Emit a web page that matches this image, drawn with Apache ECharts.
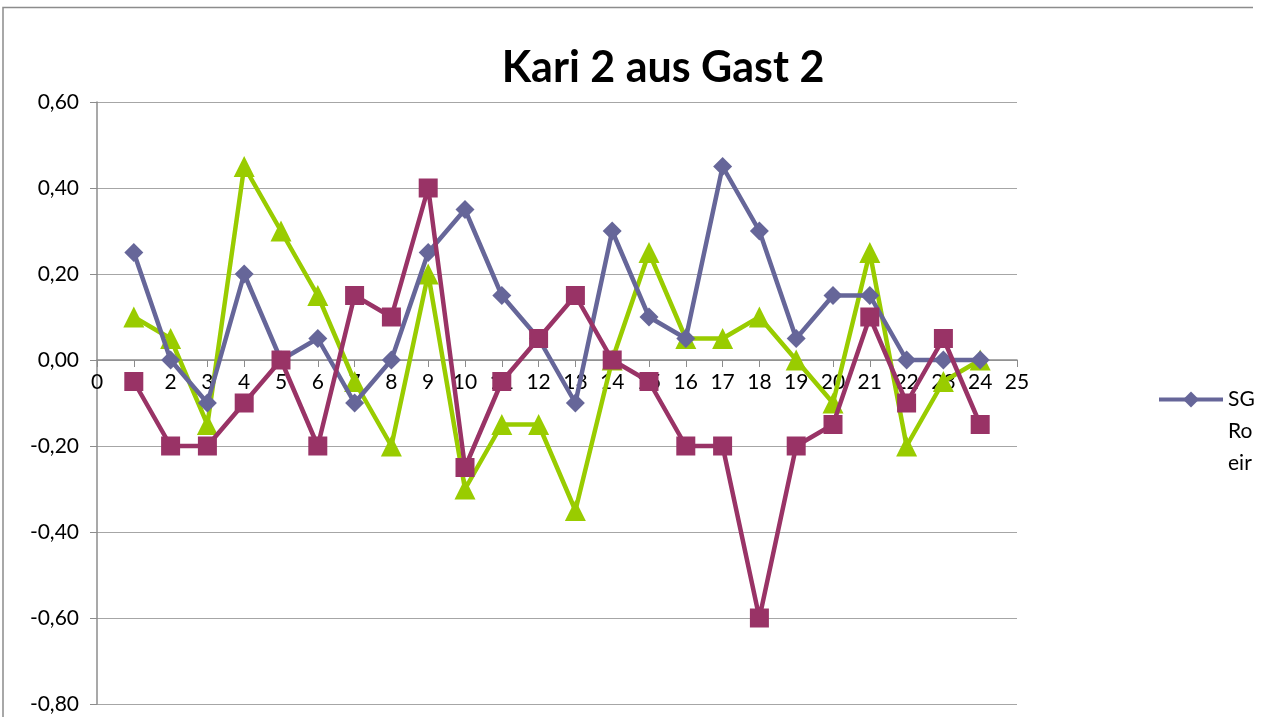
<!DOCTYPE html>
<html>
<head>
<meta charset="utf-8">
<title>Kari 2 aus Gast 2</title>
<script src="https://cdn.jsdelivr.net/npm/echarts@6/dist/echarts.min.js"></script>
<style>
  html, body { margin: 0; padding: 0; background: #fff; }
  #chart { width: 1268px; height: 717px; }
</style>
</head>
<body>
<div id="chart"></div>
<script>
  // Werte je Position 1..24
  var positions = [1, 2, 3, 4, 5, 6, 7, 8, 9, 10, 11, 12, 13, 14, 15, 16, 17, 18, 19, 20, 21, 22, 23, 24];
  var sgValues = [0.25, 0.00, -0.10, 0.20, 0.00, 0.05, -0.10, 0.00, 0.25, 0.35, 0.15, 0.05,
                  -0.10, 0.30, 0.10, 0.05, 0.45, 0.30, 0.05, 0.15, 0.15, 0.00, 0.00, 0.00];
  var roValues = [-0.05, -0.20, -0.20, -0.10, 0.00, -0.20, 0.15, 0.10, 0.40, -0.25, -0.05, 0.05,
                  0.15, 0.00, -0.05, -0.20, -0.20, -0.60, -0.20, -0.15, 0.10, -0.10, 0.05, -0.15];
  var eirValues = [0.10, 0.05, -0.15, 0.45, 0.30, 0.15, -0.05, -0.20, 0.20, -0.30, -0.15, -0.15,
                   -0.35, 0.00, 0.25, 0.05, 0.05, 0.10, 0.00, -0.10, 0.25, -0.20, -0.05, 0.00];
  var seriesNames = ['SG', 'Ro', 'eir'];

  function pairs(vals) {
    var out = [];
    for (var i = 0; i < positions.length; i++) {
      out.push([positions[i], vals[i]]);
    }
    return out;
  }

  var font = 'Lato, "Open Sans", sans-serif';
  var gridTop = 102, gridBottomY = 704, yMin = -0.8, yMax = 0.6;
  // x-Achse auf die Nulllinie schieben
  var zeroY = gridTop + (yMax / (yMax - yMin)) * (gridBottomY - gridTop);

  var myChart = echarts.init(document.getElementById('chart'));

  var option = {
    animation: false,
    backgroundColor: '#fff',
    title: {
      text: 'Kari 2 aus Gast 2',
      left: 658,
      textAlign: 'center',
      top: 42,
      textStyle: { fontFamily: font, fontSize: 43, fontWeight: 'bold', color: '#000' }
    },
    graphic: [
      // Rahmen des Diagrammbereichs
      {
        type: 'polyline',
        shape: { points: [[3, 730], [3, 7.5], [1253, 7.5]] },
        style: { stroke: '#8c8c8c', lineWidth: 1.5, fill: null },
        silent: true
      }
    ],
    legend: {
      orient: 'vertical',
      left: 1152,
      top: 384,
      itemWidth: 64,
      itemHeight: 20,
      itemGap: 11,
      textStyle: { fontFamily: font, fontSize: 21, color: '#000' },
      data: [
        { name: 'SG', lineStyle: { width: 4 } },
        { name: 'Ro', itemStyle: { opacity: 0 }, lineStyle: { opacity: 0 } },
        { name: 'eir', itemStyle: { opacity: 0 }, lineStyle: { opacity: 0 } }
      ],
      selectedMode: false
    },
    grid: {
      left: 97,
      top: gridTop,
      right: 251,
      bottom: 717 - gridBottomY,
      containLabel: false,
      outerBoundsMode: 'none'
    },
    xAxis: {
      type: 'value',
      min: 0,
      max: 25,
      interval: 1,
      offset: zeroY - gridBottomY,
      axisLine: { onZero: false, lineStyle: { color: '#8c8c8c', width: 1.5 } },
      axisTick: { show: true, inside: false, length: 7, lineStyle: { color: '#8c8c8c' } },
      axisLabel: { fontFamily: font, fontSize: 21, color: '#000', margin: 12 },
      splitLine: { show: false }
    },
    yAxis: {
      type: 'value',
      min: yMin,
      max: yMax,
      interval: 0.2,
      axisLine: { show: true, lineStyle: { color: '#8c8c8c', width: 1.5 } },
      axisTick: { show: true, inside: false, length: 7, lineStyle: { color: '#8c8c8c' } },
      axisLabel: {
        fontFamily: font, fontSize: 21, color: '#000', margin: 18,
        formatter: function (v) { return v.toFixed(2).replace('.', ','); }
      },
      splitLine: { show: true, lineStyle: { color: '#a6a6a6', width: 1.2 } }
    },
    series: [
      {
        name: seriesNames[0],
        type: 'line',
        data: pairs(sgValues),
        symbol: 'diamond',
        symbolSize: 19,
        color: '#666699',
        lineStyle: { width: 4.5, color: '#666699' },
        itemStyle: { color: '#666699' },
        z: 2
      },
      {
        name: seriesNames[1],
        type: 'line',
        data: pairs(roValues),
        symbol: 'rect',
        symbolSize: 19,
        color: '#993366',
        lineStyle: { width: 4.5, color: '#993366' },
        itemStyle: { color: '#993366' },
        z: 3
      },
      {
        name: seriesNames[2],
        type: 'line',
        data: pairs(eirValues),
        symbol: 'triangle',
        symbolSize: 21,
        color: '#99cc00',
        lineStyle: { width: 4.5, color: '#99cc00' },
        itemStyle: { color: '#99cc00' },
        z: 1
      }
    ]
  };

  myChart.setOption(option);
</script>
</body>
</html>
